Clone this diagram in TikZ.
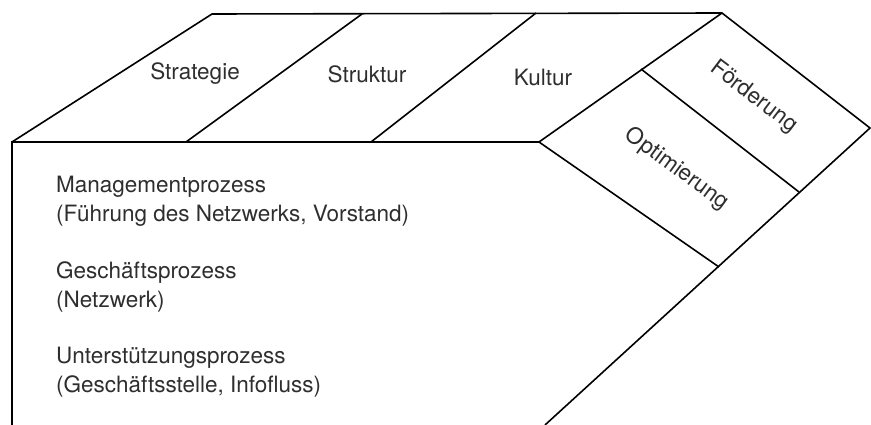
\documentclass[tikz,border=0pt]{standalone}
\usepackage{fontspec}
\setmainfont{TeX Gyre Heros}
\begin{document}
\begin{tikzpicture}[x=1pt,y=-1pt,
  edge/.style={line width=1.6pt, line join=miter, black},
  lbl/.style={font=\fontsize{22.5}{27}\selectfont, text=black!82, inner sep=0pt}]
\useasboundingbox (0,0) rectangle (871,425);

% corners of the front face and the roof
\coordinate (fbl) at (12,425);
\coordinate (ftl) at (12,142);
\coordinate (ftr) at (539,142);
\coordinate (rtl) at (212,14);
\coordinate (rtr) at (722,13);
\coordinate (tip) at (870,128);
\coordinate (obot) at (719,267);
\coordinate (send) at (545,425);
% roof dividers
\coordinate (d1b) at (186,142);
\coordinate (d1t) at (362,14);
\coordinate (d2b) at (371,142);
\coordinate (d2t) at (536,13);
\coordinate (d3t) at (641,69);
\coordinate (d3b) at (799,192);

% outline
\draw[edge] (fbl) -- (ftl) -- (ftr) -- (obot);
\draw[edge] (ftl) -- (rtl) -- (rtr) -- (tip) -- (send);
% dividers
\draw[edge] (d1b) -- (d1t);
\draw[edge] (d2b) -- (d2t);
\draw[edge] (ftr) -- (rtr);
\draw[edge] (d3t) -- (d3b);

% roof labels
\node[lbl, anchor=base] (strat) at (195,80) {Strategie};
\node[lbl, anchor=base] (struk) at (367,83) {Struktur};
\node[lbl, anchor=base] (kult) at (543,86) {Kultur};
\node[lbl, rotate=-37] (foerd) at (754,97) {Förderung};
\node[lbl, rotate=-36] (optim) at (677,169) {Optimierung};

% process labels
\node[lbl, anchor=base west] (m1) at (56,193) {Managementprozess};
\node[lbl, anchor=base west] (m2) at (56,222) {(Führung des Netzwerks, Vorstand)};
\node[lbl, anchor=base west] (g1) at (56,278) {Geschäftsprozess};
\node[lbl, anchor=base west] (g2) at (56,307) {(Netzwerk)};
\node[lbl, anchor=base west] (u1) at (56,363) {Unterstützungsprozess};
\node[lbl, anchor=base west] (u2) at (56,392) {(Geschäftsstelle, Infofluss)};
\end{tikzpicture}
\end{document}
